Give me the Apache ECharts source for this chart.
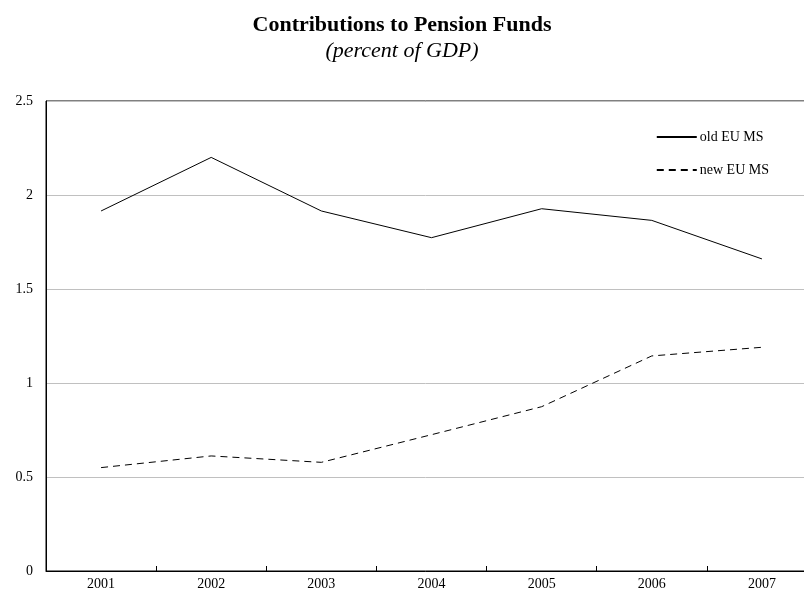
<!DOCTYPE html>
<html>
<head>
<meta charset="utf-8">
<script src="https://cdn.jsdelivr.net/npm/echarts@6/dist/echarts.min.js"></script>
<style>html,body{margin:0;padding:0;background:#fff;}#c{width:804px;height:602px;}</style>
</head>
<body>
<div id="c"></div>
<script>
var years = ['2001','2002','2003','2004','2005','2006','2007'];
var oldEU = [1.915, 2.20, 1.915, 1.773, 1.927, 1.865, 1.66];
var newEU = [0.55, 0.612, 0.578, 0.725, 0.874, 1.144, 1.19];
var seriesNames = ['old EU MS', 'new EU MS'];
var yTicks = [0, 0.5, 1, 1.5, 2, 2.5];

var FONT = '"Liberation Serif", "Times New Roman", serif';
var chart = echarts.init(document.getElementById('c'));
chart.setOption({
  backgroundColor: '#fff',
  animation: false,
  title: {
    text: 'Contributions to Pension Funds',
    subtext: '(percent of GDP)',
    left: 'center',
    top: 9,
    itemGap: 4,
    textStyle: {fontFamily: FONT, fontSize: 22, fontWeight: 'bold', color: '#000'},
    subtextStyle: {fontFamily: FONT, fontSize: 22, fontStyle: 'italic', color: '#000'}
  },
  legend: {
    orient: 'vertical',
    right: 30,
    top: 125,
    itemWidth: 40,
    itemHeight: 14,
    itemGap: 19,
    data: seriesNames,
    itemStyle: {opacity: 0},
    textStyle: {fontFamily: FONT, fontSize: 14, color: '#000', padding: [0,0,0,-2]}
  },
  grid: {
    left: 46, top: 101, width: 771, height: 470,
    outerBoundsMode: 'none',
    containLabel: false,
    show: true, borderColor: '#000', borderWidth: 1, backgroundColor: 'transparent'
  },
  xAxis: {
    type: 'category',
    data: years,
    boundaryGap: true,
    axisLine: {lineStyle: {color: '#000', width: 1}},
    axisTick: {show: true, inside: true, length: 5, lineStyle: {color: '#000'}},
    axisLabel: {fontFamily: FONT, fontSize: 14, color: '#000', margin: 6},
    splitLine: {show: false}
  },
  yAxis: {
    type: 'value',
    min: yTicks[0],
    max: yTicks[yTicks.length - 1],
    interval: 0.5,
    axisLine: {show: true, lineStyle: {color: '#000', width: 1}},
    axisTick: {show: false},
    axisLabel: {fontFamily: FONT, fontSize: 14, color: '#000', margin: 13},
    splitLine: {show: true, lineStyle: {color: '#c0c0c0', width: 1}}
  },
  series: [
    {
      name: seriesNames[0], type: 'line', data: oldEU, symbol: 'none',
      lineStyle: {color: '#000', width: 1, type: 'solid'},
      itemStyle: {color: '#000'}
    },
    {
      name: seriesNames[1], type: 'line', data: newEU, symbol: 'none',
      lineStyle: {color: '#000', width: 1, type: [7, 5]},
      itemStyle: {color: '#000'}
    }
  ]
});
</script>
</body>
</html>
